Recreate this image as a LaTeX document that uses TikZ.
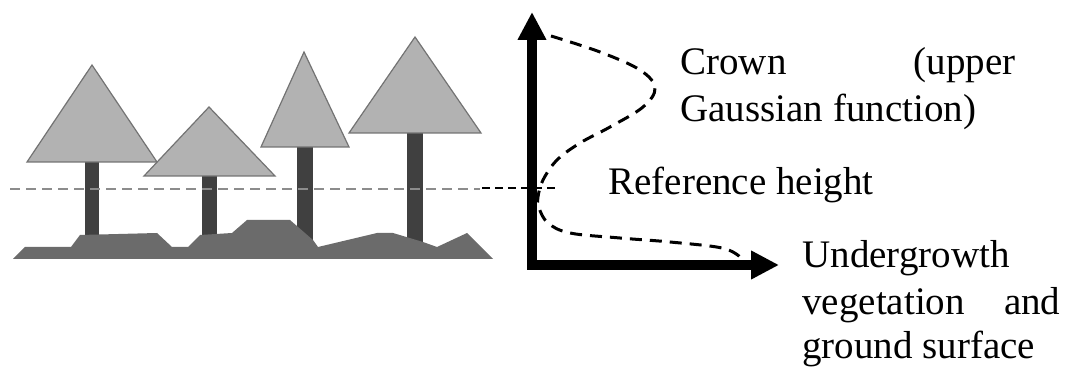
\documentclass[tikz,border=0pt]{standalone}
\usepackage{fontspec}
\setmainfont{Liberation Serif}
\usetikzlibrary{arrows.meta}

\begin{document}
\begin{tikzpicture}[
    x=0.5pt, y=-0.5pt,
    crown/.style={draw=black!55, fill=black!30, line width=0.6pt},
    trunk/.style={fill=black!75},
    ground/.style={fill=black!58},
    refline/.style={draw=black!45, line width=1pt, dash pattern=on 5pt off 3pt},
    axis/.style={{Triangle[length=14pt, width=13.5pt]}-{Triangle[length=14pt, width=13.5pt]}, line width=4.6pt},
    profile/.style={line width=1.5pt, dash pattern=on 6pt off 4pt},
    label/.style={font=\fontsize{19.5}{23.5}\selectfont, inner sep=0pt, anchor=base west},
]
\useasboundingbox (0,0) rectangle (1069,367);

% trees: crown, then trunk
\foreach \ax/\ay/\bl/\br/\by/\tl/\tr/\tb in {
    92/65/27/157/162/85/99/240,
    209/107/144/275/176/202/217/240,
    304/52/261/349/147/297/313/245,
    415/37/349/481/133/407/423/248}{
  \fill[trunk] (\tl,\by) rectangle (\tr,\tb);
  \draw[crown] (\ax,\ay) -- (\bl,\by) -- (\br,\by) -- cycle;
}

% ground
\fill[ground] (13,259) -- (25,247) -- (71,247) -- (80,235) -- (157,233)
  -- (172,247) -- (188,247) -- (200,235) -- (232,233) -- (247,220)
  -- (290,220) -- (313,240) -- (318,247) -- (377,233) -- (393,233)
  -- (423,242) -- (437,247) -- (467,233) -- (493,259) -- cycle;

% reference height
\draw[refline] (10,189) -- (480,189);
\draw[line width=1pt, dash pattern=on 4pt off 2.5pt] (482,188) -- (558,188);

% axes
\coordinate (origin) at (532,265);
\coordinate (ytip) at (532,12);
\coordinate (xtip) at (779,265);
\draw[axis] (ytip) -- (origin) -- (xtip);

% vertical profile
\draw[profile] plot[smooth, tension=0.6] coordinates {
  (551,36) (600,52) (640,70) (655,88) (643,107) (610,127) (580,143)
  (557,160) (543,180) (538,197) (539,208) (548,223) (570,233)
  (620,238) (670,242) (722,248) (740,257)};

% labels
\node[label] (crownlbl) at (680,75) {\hbox to 167.5pt{Crown\hfill(upper}};
\node[label] (gausslbl) at (680,122) {Gaussian function)};
\node[label] (reflbl) at (608,195) {Reference height};
\node[label] (under1) at (802,268) {Undergrowth};
\node[label] (under2) at (802,315) {\hbox to 129pt{vegetation\hfill and}};
\node[label] (under3) at (802,359) {ground surface};
\end{tikzpicture}
\end{document}
